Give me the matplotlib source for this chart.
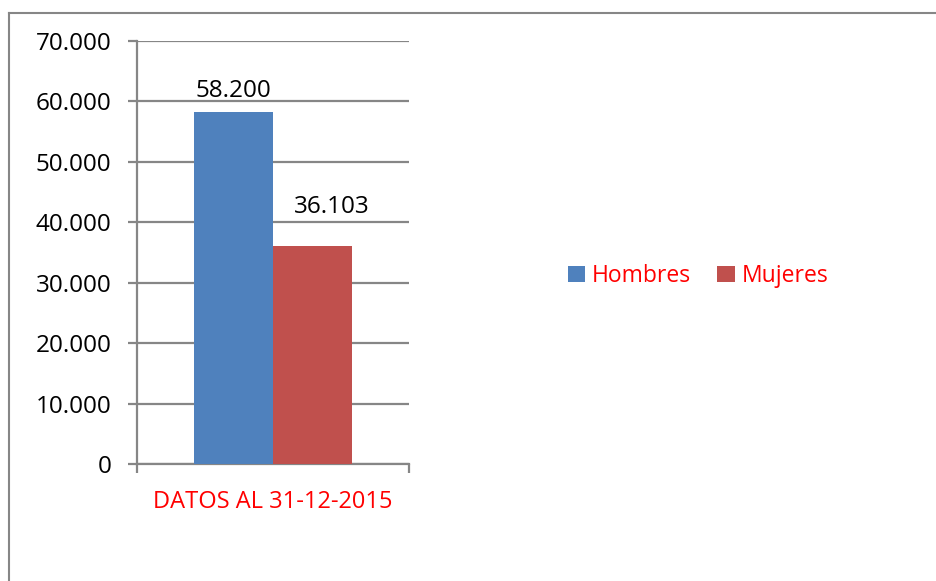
import matplotlib
matplotlib.use("Agg")
import matplotlib.pyplot as plt
from matplotlib.lines import Line2D
from matplotlib.ticker import FuncFormatter

categories = ["DATOS AL 31-12-2015"]
series_names = ["Hombres", "Mujeres"]
hombres = [58200]
mujeres = [36103]
colors = ["#4F81BD", "#C0504D"]
yticks = [0, 10000, 20000, 30000, 40000, 50000, 60000, 70000]

plt.rcParams['font.family'] = ['Open Sans', 'DejaVu Sans']

fig = plt.figure(figsize=(9.36, 5.81), dpi=100)
W, H = 936, 581
frame_c = "#868686"
# outer frame (left and top edges visible)
fig.add_artist(Line2D([8.5 / W, 8.5 / W], [0, 1 - 13 / H], transform=fig.transFigure,
                      color=frame_c, linewidth=1.5, solid_capstyle="projecting"))
fig.add_artist(Line2D([8.5 / W, 1.0], [1 - 13 / H, 1 - 13 / H], transform=fig.transFigure,
                      color=frame_c, linewidth=1.5, solid_capstyle="projecting"))

ax = fig.add_axes([137 / W, 1 - 464 / H, (409 - 137) / W, (464 - 41) / H])
grid_c = "#868686"
bw = 0.289
x = [0]
b1 = ax.bar([i - bw / 2 for i in x], hombres, width=bw, color=colors[0], label=series_names[0], zorder=3)
b2 = ax.bar([i + bw / 2 for i in x], mujeres, width=bw, color=colors[1], label=series_names[1], zorder=3)

fmt = lambda v: f"{v:,.0f}".replace(",", ".")
label_offsets = [(0, 7), (14, 19)]  # points
for (bars, vals), off in zip(((b1, hombres), (b2, mujeres)), label_offsets):
    for r, v in zip(bars, vals):
        ax.annotate(fmt(v), (r.get_x() + r.get_width() / 2, v), xytext=off,
                    textcoords="offset points", ha="center", va="bottom", fontsize=17.5)

ax.set_xlim(-0.5, 0.5)
ax.set_ylim(0, 70000)
ax.set_yticks(yticks)
ax.yaxis.set_major_formatter(FuncFormatter(lambda v, p: fmt(v)))
ax.yaxis.grid(True, color=grid_c, linewidth=1.6, zorder=0)
ax.set_axisbelow(True)
for s in ("top", "right"):
    ax.spines[s].set_visible(False)
for s in ("left", "bottom"):
    ax.spines[s].set_color(grid_c)
    ax.spines[s].set_linewidth(1.6)
ax.tick_params(axis="y", length=6.5, width=1.6, color=grid_c, labelsize=17.5, pad=12)
ax.set_xticks(x)
ax.set_xticklabels(categories, color="#FF0000", fontsize=17)
ax.tick_params(axis="x", which="major", length=0, pad=19)
ax.set_xticks([-0.5, 0.5], minor=True)
ax.tick_params(axis="x", which="minor", length=6.5, width=1.6, color=grid_c, direction="out")

leg = fig.legend(handles=[b1, b2], labels=series_names, loc="center",
                 bbox_to_anchor=(698 / W, 1 - 276 / H), ncol=2, frameon=False,
                 fontsize=16.5, handlelength=0.75, handleheight=0.75, handletextpad=0.3,
                 columnspacing=1.15)
for t in leg.get_texts():
    t.set_color("#FF0000")

fig.savefig("out.png", dpi=100)
